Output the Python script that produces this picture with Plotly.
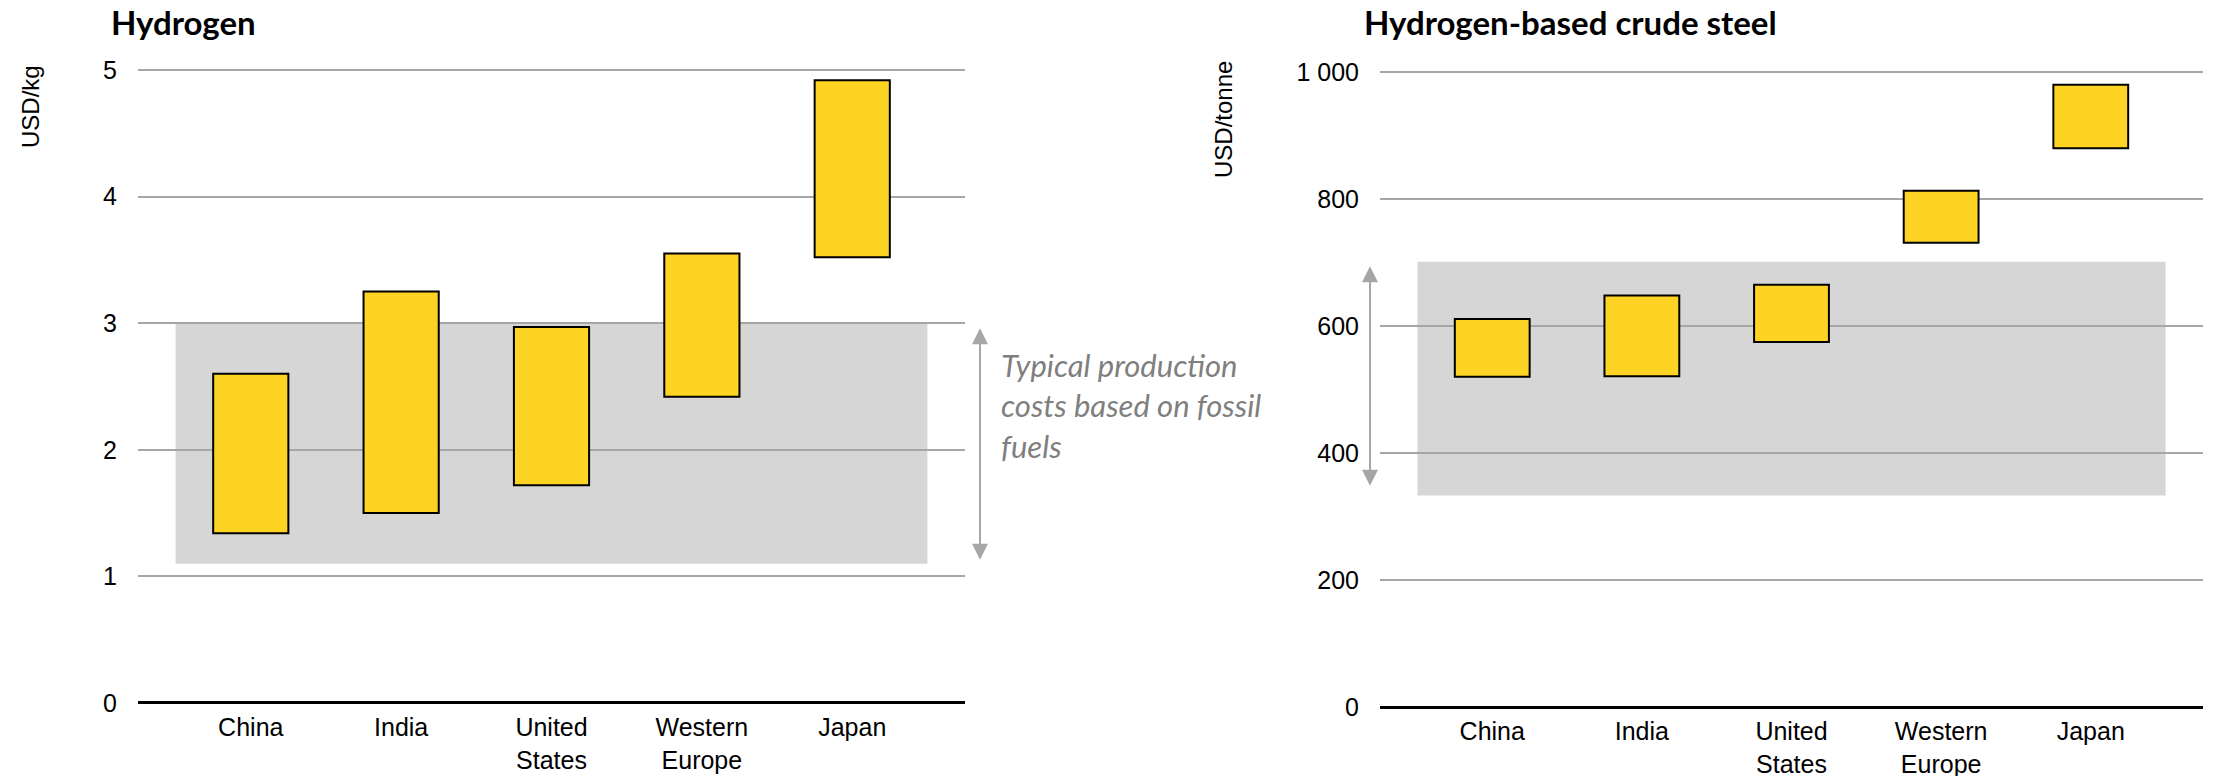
import plotly.graph_objects as go

# Regions shown on both panels
regions = ["China", "India", "United<br>States", "Western<br>Europe", "Japan"]

# Hydrogen production cost range, USD/kg
h2_low = [1.34, 1.50, 1.72, 2.42, 3.52]
h2_high = [2.60, 3.25, 2.97, 3.55, 4.92]
h2_fossil_band = [1.10, 3.00]
h2_ticks = [0, 1, 2, 3, 4, 5]
h2_ticklabels = ["0", "1", "2", "3", "4", "5"]

# Hydrogen-based crude steel cost range, USD/tonne
steel_low = [520, 521, 575, 731, 880]
steel_high = [611, 648, 665, 813, 980]
steel_fossil_band = [333, 701]
steel_ticks = [0, 200, 400, 600, 800, 1000]
steel_ticklabels = ["0", "200", "400", "600", "800", "1 000"]

W, H = 2216, 776
BAR = "#FDD324"
BAND = "#D6D6D6"
GRID = "#A6A6A6"
ARROW = "#A6A6A6"
NOTE = "#7F7F7F"
TICK_FONT = dict(family="Liberation Sans, Arial, sans-serif", size=25, color="#000000")
TITLE_FONT = dict(family="Lato, Carlito, sans-serif", size=33, color="#000000")


def px_x(p):
    return p / W


def px_y(p):
    return 1 - p / H


fig = go.Figure()

fig.add_trace(go.Bar(
    x=list(range(len(regions))),
    y=[hi - lo for lo, hi in zip(h2_low, h2_high)],
    base=h2_low,
    width=0.5,
    marker=dict(color=BAR, line=dict(color="#000000", width=2)),
    xaxis="x", yaxis="y", hoverinfo="skip", showlegend=False,
))

fig.add_trace(go.Bar(
    x=list(range(len(regions))),
    y=[hi - lo for lo, hi in zip(steel_low, steel_high)],
    base=steel_low,
    width=0.5,
    marker=dict(color=BAR, line=dict(color="#000000", width=2)),
    xaxis="x2", yaxis="y2", hoverinfo="skip", showlegend=False,
))

xcommon = dict(
    range=[-0.75, 4.75],
    tickmode="array",
    tickvals=list(range(len(regions))),
    ticktext=regions,
    showgrid=False,
    showline=False,
    zeroline=False,
    ticks="",
    tickfont=TICK_FONT,
    ticklabelstandoff=7,
    automargin=False,
    fixedrange=True,
)
ycommon = dict(
    showgrid=True,
    gridcolor=GRID,
    gridwidth=1.5,
    zeroline=True,
    zerolinecolor="#000000",
    zerolinewidth=3,
    showline=False,
    ticks="",
    tickfont=TICK_FONT,
    tickmode="array",
    ticklabelstandoff=20,
    automargin=False,
    fixedrange=True,
)

# A little headroom above the top tick keeps its gridline visible
h2_top, steel_top = 5.02, 1004

fig.update_layout(
    width=W, height=H,
    margin=dict(l=0, r=0, t=0, b=0),
    paper_bgcolor="#FFFFFF",
    plot_bgcolor="#FFFFFF",
    barmode="overlay",
    xaxis=dict(domain=[px_x(138), px_x(965)], anchor="y", **xcommon),
    yaxis=dict(domain=[px_y(703), px_y(70 - 0.02 * 126.6)], anchor="x", range=[0, h2_top],
               tickvals=h2_ticks, ticktext=h2_ticklabels, **ycommon),
    xaxis2=dict(domain=[px_x(1380), px_x(2203)], anchor="y2", **xcommon),
    yaxis2=dict(domain=[px_y(707), px_y(72 - 4 * 0.635)], anchor="x2", range=[0, steel_top],
                tickvals=steel_ticks, ticktext=steel_ticklabels, **ycommon),
)

# Fossil-fuel cost bands sit beneath the gridlines
fig.add_shape(type="rect", xref="x", yref="y", x0=-0.5, x1=4.5,
              y0=h2_fossil_band[0], y1=h2_fossil_band[1],
              fillcolor=BAND, line=dict(width=0), layer="below")
fig.add_shape(type="rect", xref="x2", yref="y2", x0=-0.5, x1=4.5,
              y0=steel_fossil_band[0], y1=steel_fossil_band[1],
              fillcolor=BAND, line=dict(width=0), layer="below")

annotations = [
    # Panel titles
    dict(text="<b>Hydrogen</b>", x=px_x(109), y=px_y(0), xref="paper", yref="paper",
         xanchor="left", yanchor="top", showarrow=False, font=TITLE_FONT),
    dict(text="<b>Hydrogen-based crude steel</b>", x=px_x(1362), y=px_y(0),
         xref="paper", yref="paper", xanchor="left", yanchor="top",
         showarrow=False, font=TITLE_FONT),
    # Unit labels
    dict(text="USD/kg", x=px_x(31), y=px_y(107), xref="paper", yref="paper",
         xanchor="center", yanchor="middle", textangle=-90, showarrow=False,
         font=dict(family="Liberation Sans, Arial, sans-serif", size=24, color="#000000")),
    dict(text="USD/tonne", x=px_x(1223), y=px_y(120), xref="paper", yref="paper",
         xanchor="center", yanchor="middle", textangle=-90, showarrow=False,
         font=dict(family="Liberation Sans, Arial, sans-serif", size=24, color="#000000")),
    # Note on the fossil-fuel band
    dict(text="Typical production<br>costs based on fossil<br>fuels",
         x=px_x(999), y=px_y(344), xref="paper", yref="paper",
         xanchor="left", yanchor="top", align="left", showarrow=False,
         font=dict(family="Lato, Carlito, sans-serif", size=31, color=NOTE, style="italic")),
    # Double-headed arrows spanning the bands
    dict(text="", x=px_x(980), y=h2_fossil_band[1] - 0.04, xref="paper", yref="y",
         ax=0, ay=h2_fossil_band[0] + 0.02, axref="pixel", ayref="y",
         showarrow=True, arrowside="end+start", arrowhead=2, startarrowhead=2,
         arrowsize=1.6, startarrowsize=1.6, arrowwidth=2, arrowcolor=ARROW),
    dict(text="", x=px_x(1370), y=steel_fossil_band[1] - 7, xref="paper", yref="y2",
         ax=0, ay=steel_fossil_band[0] + 13, axref="pixel", ayref="y2",
         showarrow=True, arrowside="end+start", arrowhead=2, startarrowhead=2,
         arrowsize=1.6, startarrowsize=1.6, arrowwidth=2, arrowcolor=ARROW),
]
fig.update_layout(annotations=annotations)

fig.write_html("out.html")
